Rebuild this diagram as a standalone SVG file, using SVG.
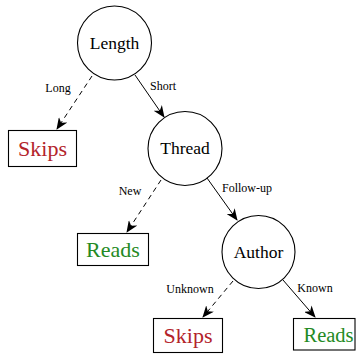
<svg xmlns="http://www.w3.org/2000/svg" width="356" height="356" viewBox="0 0 356 356">
<style>
.node circle{fill:#fff;stroke:#000;stroke-width:1.1}
.leaf rect{fill:#fff;stroke:#000;stroke-width:1.1}
text{font-family:'Liberation Serif','Times New Roman','DejaVu Serif',serif}
.nt{font-size:17.5px;text-anchor:middle;fill:#000}
.lt{font-size:22px;text-anchor:middle}
.skip{fill:#b3232a}
.read{fill:#248a24}
.el{font-size:12px;text-anchor:middle;fill:#000}
.edge{stroke:#000;stroke-width:1;fill:none}
.dash{stroke-dasharray:5,4}
</style>
<defs>
<marker id="arr" viewBox="0 0 12 10" refX="11" refY="5" markerWidth="12" markerHeight="10" markerUnits="userSpaceOnUse" orient="auto">
<path d="M0,0 L12,5 L0,10 L3.5,5 Z" fill="#000"/>
</marker>
</defs>
<g id="connectors">
<line class="edge dash" x1="92" y1="76" x2="57" y2="129" marker-end="url(#arr)"/>
<line class="edge" x1="135" y1="75" x2="164" y2="117" marker-end="url(#arr)"/>
<line class="edge dash" x1="161" y1="180" x2="127" y2="232" marker-end="url(#arr)"/>
<line class="edge" x1="207" y1="178" x2="237" y2="220" marker-end="url(#arr)"/>
<line class="edge dash" x1="233" y1="281" x2="203" y2="317" marker-end="url(#arr)"/>
<line class="edge" x1="283" y1="280" x2="315" y2="317" marker-end="url(#arr)"/>
<text class="el" x="58" y="91.5">Long</text>
<text class="el" x="163" y="90">Short</text>
<text class="el" x="130" y="195">New</text>
<text class="el" x="247" y="192">Follow-up</text>
<text class="el" x="190" y="293">Unknown</text>
<text class="el" x="315" y="292">Known</text>
</g>
<g id="length" class="node"><circle cx="114.5" cy="43" r="37"/><text class="nt" x="114.5" y="48.5">Length</text></g>
<g id="skips1" class="leaf"><rect x="8.5" y="130.5" width="68" height="36"/><text class="lt skip" x="42.5" y="155.5">Skips</text></g>
<g id="thread" class="node"><circle cx="185" cy="148.5" r="37"/><text class="nt" x="185" y="154">Thread</text></g>
<g id="reads1" class="leaf"><rect x="77.5" y="233.5" width="71" height="32"/><text class="lt read" x="113" y="256.5">Reads</text></g>
<g id="author" class="node"><circle cx="258.5" cy="252" r="36.5"/><text class="nt" x="258.5" y="257.5">Author</text></g>
<g id="skips2" class="leaf"><rect x="153.5" y="318.5" width="69" height="34"/><text class="lt skip" x="188" y="342.5">Skips</text></g>
<g id="reads2" class="leaf"><rect x="293.5" y="318.5" width="61.5" height="31.5"/><text class="lt read" x="303.5" y="341.5" style="text-anchor:start;font-size:20.5px">Reads</text></g>
</svg>
